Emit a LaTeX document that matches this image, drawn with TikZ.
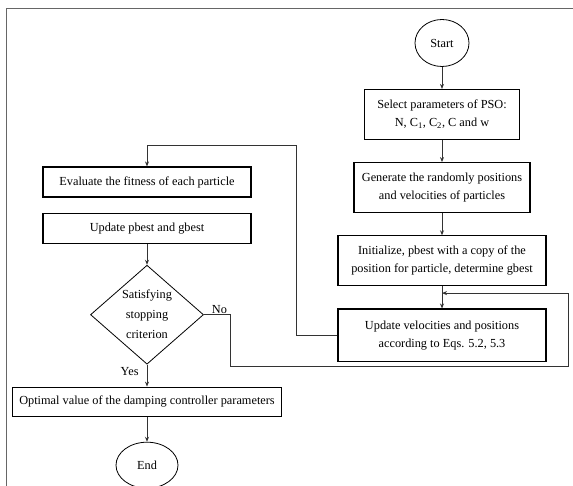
\documentclass[tikz,border=0pt]{standalone}
\usepackage{fontspec}
\setmainfont{Liberation Serif}
\usetikzlibrary{positioning,arrows.meta,shapes.geometric,calc}

\begin{document}
\begin{tikzpicture}[
x=1pt,y=-1pt,
node distance=22pt,
box/.style={draw,line width=1.2pt,minimum width=208pt,minimum height=50pt,align=center,inner sep=3pt,font=\fontsize{12.3}{18}\selectfont},
term/.style={draw,ellipse,line width=0.8pt,minimum width=54pt,minimum height=47pt,inner sep=0pt,font=\fontsize{12.3}{15}\selectfont},
cond/.style={draw,diamond,line width=0.8pt,minimum width=113pt,minimum height=99pt,aspect=1.14,inner sep=0pt,align=center,font=\fontsize{12.3}{20}\selectfont},
lbl/.style={font=\fontsize{12.3}{15}\selectfont,inner sep=1pt},
line/.style={draw=black!80,line width=0.8pt},
>={Stealth[length=5pt,width=4pt]}]
\useasboundingbox (0,0) rectangle (573,486);
\draw[black!60,line width=0.8pt] (6,486) |- (573,8.5);
% right column
\node[term] (start) at (442,43) {Start};
\node[box,minimum width=155pt] (select) [below=of start] {Select parameters of PSO:\\N, C\textsubscript{1}, C\textsubscript{2}, C and w};
\node[box,minimum width=176pt] (generate) [below=of select] {Generate the randomly positions\\and velocities of particles};
\node[box] (init) [below=of generate] {Initialize, pbest with a copy of the\\position for particle, determine gbest};
\node[box,minimum height=52pt] (updvel) [below=of init] {Update velocities and positions\\according to Eqs. 5.2, 5.3};
% left column
\node[box,minimum height=30pt] (eval) at (147,182) {Evaluate the fitness of each particle};
\node[box,minimum height=30pt] (pbest) [below=15pt of eval] {Update pbest and gbest};
\node[cond] (check) [below=21pt of pbest] {Satisfying\\stopping\\criterion};
\node[box,minimum width=269pt,minimum height=29pt] (optimal) [below=of check] {Optimal value of the damping controller parameters};
\node[term,minimum width=62pt,minimum height=46pt] (end) [below=25pt of optimal] {End};
\draw[line,->] (start)--(select);
\draw[line,->] (select)--(generate);
\draw[line,->] (generate)--(init);
\draw[line,->] (init)--(updvel);
\draw[line,->] (pbest)--(check);
\draw[line,->] (check)--node[lbl,left=7pt,pos=0.3]{Yes}(optimal);
\draw[line,->] (optimal)--(end);
\coordinate (back) at ($(init.south)!0.3!(updvel.north)$);
\draw[line,->] (updvel.west)--++(-41,0)|-($(eval.north)+(0,-21)$)--(eval.north);
\draw[line,->] (check.east)--node[lbl,above,pos=0.6]{No}++(26,0)|-($(updvel.south east)+(22,5)$)|-(back);
\end{tikzpicture}
\end{document}
